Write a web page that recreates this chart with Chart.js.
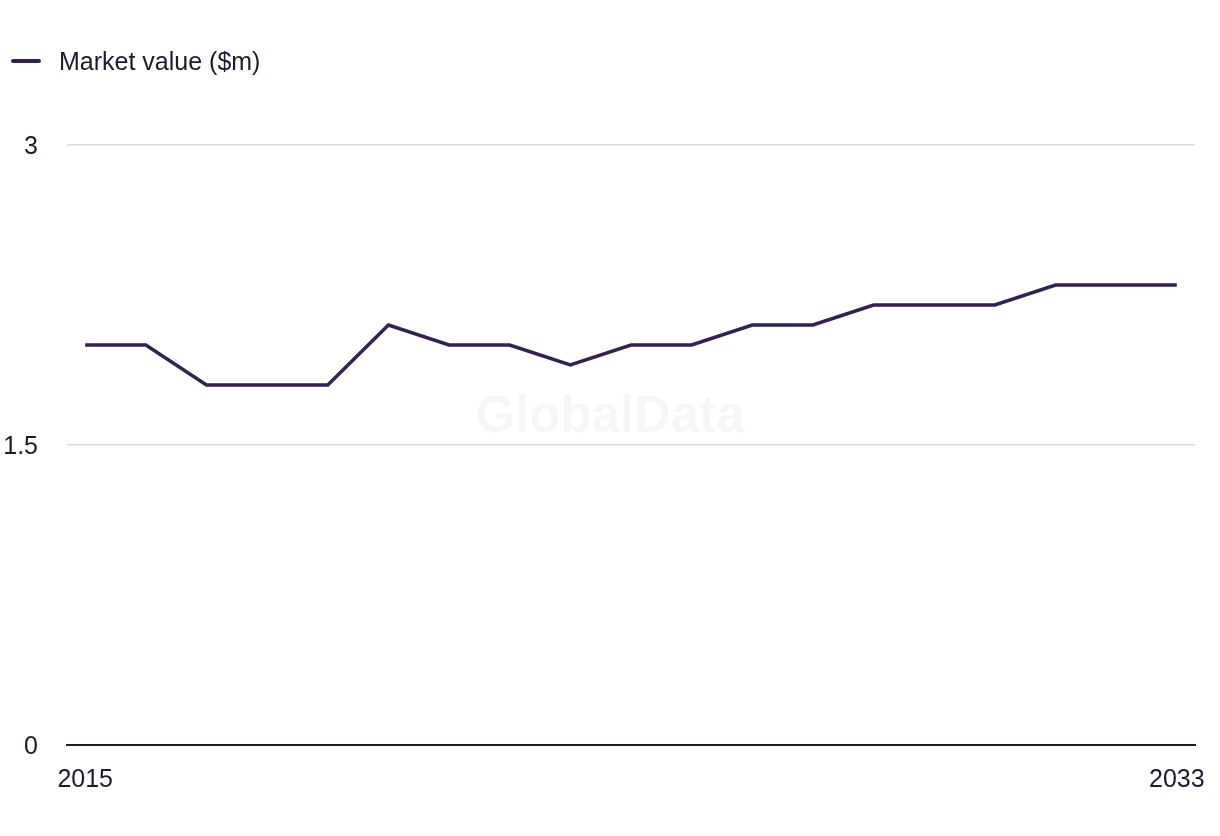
<!DOCTYPE html>
<html>
<head>
<meta charset="utf-8">
<script src="https://cdn.jsdelivr.net/npm/chart.js@4"></script>
<style>
  html, body { margin: 0; padding: 0; background: #ffffff; }
  #wrap { width: 1220px; height: 836px; position: relative; }
</style>
</head>
<body>
<div id="wrap"><canvas id="c" width="1220" height="836"></canvas></div>
<script>
const years = [2015, 2016, 2017, 2018, 2019, 2020, 2021, 2022, 2023, 2024, 2025, 2026, 2027, 2028, 2029, 2030, 2031, 2032, 2033];
const marketValue = [2.0, 2.0, 1.8, 1.8, 1.8, 2.1, 2.0, 2.0, 1.9, 2.0, 2.0, 2.1, 2.1, 2.2, 2.2, 2.2, 2.3, 2.3, 2.3];
const xTickLabels = [2015, 2033];
const yTicks = [0, 1.5, 3];
const seriesLabel = 'Market value ($m)';

const FONT = '"Liberation Sans", Arial, sans-serif';
const TEXT = '#1b1a2e';
const LINE = '#35214f';

const watermark = {
  id: 'watermark',
  beforeDatasetsDraw(chart) {
    const { ctx } = chart;
    ctx.save();
    ctx.font = 'bold 51px ' + FONT;
    ctx.fillStyle = 'rgba(0,0,0,0.035)';
    ctx.textAlign = 'center';
    ctx.textBaseline = 'middle';
    ctx.fillText('GlobalData', chart.width / 2, 418);
    ctx.restore();
  }
};

const customLegend = {
  id: 'customLegend',
  afterDraw(chart) {
    const { ctx } = chart;
    const ds = chart.data.datasets[0];
    ctx.save();
    ctx.strokeStyle = ds.borderColor;
    ctx.lineWidth = 4;
    ctx.lineCap = 'round';
    ctx.beginPath();
    ctx.moveTo(13, 61);
    ctx.lineTo(39, 61);
    ctx.stroke();
    ctx.fillStyle = TEXT;
    ctx.font = '25px ' + FONT;
    ctx.textAlign = 'left';
    ctx.textBaseline = 'middle';
    ctx.fillText(ds.label, 59, 63);
    ctx.restore();
  }
};

new Chart(document.getElementById('c'), {
  type: 'line',
  data: {
    datasets: [{
      label: seriesLabel,
      data: years.map((y, i) => ({ x: y, y: marketValue[i] })),
      borderColor: LINE,
      backgroundColor: LINE,
      borderWidth: 3.5,
      pointRadius: 0,
      tension: 0,
      fill: false
    }]
  },
  options: {
    responsive: false,
    animation: false,
    layout: { padding: { left: 0, right: 25, top: 145, bottom: 21 } },
    plugins: {
      legend: { display: false },
      tooltip: { enabled: false }
    },
    scales: {
      x: {
        type: 'linear',
        min: 2014.7,
        max: 2033.3,
        afterBuildTicks(axis) { axis.ticks = xTickLabels.map(v => ({ value: v })); },
        afterFit(axis) { axis.paddingLeft = 0; axis.paddingRight = 0; },
        ticks: {
          color: TEXT,
          font: { family: FONT, size: 25 },
          padding: 20,
          maxRotation: 0,
          callback: v => String(v)
        },
        grid: { display: false, drawTicks: false },
        border: { display: true, color: '#1b1a2e', width: 2 }
      },
      y: {
        min: 0,
        max: 3,
        afterBuildTicks(axis) { axis.ticks = yTicks.map(v => ({ value: v })); },
        afterFit(axis) { axis.width = 67; },
        ticks: {
          color: TEXT,
          font: { family: FONT, size: 25 },
          padding: 29,
          labelOffset: 2,
          callback: v => String(v)
        },
        grid: { color: '#d9d9d9', lineWidth: 1.5, drawTicks: false },
        border: { display: false }
      }
    }
  },
  plugins: [watermark, customLegend]
});
</script>
</body>
</html>
